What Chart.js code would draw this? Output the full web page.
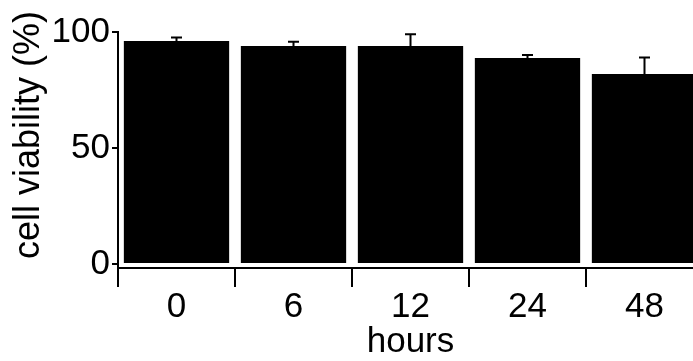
<!DOCTYPE html>
<html>
<head>
<meta charset="utf-8">
<script src="https://cdn.jsdelivr.net/npm/chart.js@4/dist/chart.umd.min.js"></script>
<style>
  html, body { margin: 0; padding: 0; background: #fff; overflow: hidden; width: 693px; height: 361px; }
  #wrap { width: 710px; height: 361px; }
</style>
</head>
<body>
<div id="wrap"><canvas id="c" width="710" height="361"></canvas></div>
<script>
const categories = ['0', '6', '12', '24', '48'];
const viability = [96.1, 94.0, 94.0, 88.8, 81.9];
const errorUp = [1.5, 1.8, 5.0, 1.3, 7.1];
const yTickValues = [0, 50, 100];

const errorBars = {
  id: 'errorBars',
  afterDatasetsDraw(chart) {
    const meta = chart.getDatasetMeta(0);
    const y = chart.scales.y;
    const ctx = chart.ctx;
    ctx.save();
    ctx.strokeStyle = '#000';
    ctx.lineWidth = 2;
    meta.data.forEach((bar, i) => {
      const yv = y.getPixelForValue(viability[i]);
      const yt = y.getPixelForValue(viability[i] + errorUp[i]);
      ctx.beginPath();
      ctx.moveTo(bar.x, yv);
      ctx.lineTo(bar.x, yt);
      ctx.moveTo(bar.x - 5.5, yt);
      ctx.lineTo(bar.x + 5.5, yt);
      ctx.stroke();
    });
    ctx.restore();
  }
};

new Chart(document.getElementById('c'), {
  type: 'bar',
  data: {
    labels: categories,
    datasets: [{
      data: viability,
      backgroundColor: '#000',
      borderWidth: 0,
      barPercentage: 0.9,
      categoryPercentage: 1.0
    }]
  },
  options: {
    responsive: false,
    devicePixelRatio: 1,
    animation: false,
    events: [],
    layout: { padding: { top: 32, right: 7, left: 0, bottom: 0 } },
    plugins: { legend: { display: false }, tooltip: { enabled: false } },
    scales: {
      x: {
        type: 'category',
        offset: true,
        grid: { display: true, offset: true, drawOnChartArea: false, drawTicks: true, tickLength: 19, lineWidth: 2, color: '#000' },
        border: { display: true, color: '#000', width: 2 },
        ticks: { color: '#000', font: { family: 'Liberation Sans, Arial, sans-serif', size: 35 }, padding: -1, maxRotation: 0 },
        title: { display: true, text: 'hours', color: '#000', font: { family: 'Liberation Sans, Arial, sans-serif', size: 35, lineHeight: 1.0 }, padding: { top: 0, bottom: 1 } },
        afterFit(scale) { scale.height = 93; }
      },
      y: {
        min: -1.7,
        max: 100,
        afterBuildTicks(scale) { scale.ticks = yTickValues.map(v => ({ value: v })); },
        grid: { display: true, drawOnChartArea: false, drawTicks: true, tickLength: 6, lineWidth: 2, color: '#000' },
        border: { display: true, color: '#000', width: 2 },
        ticks: { color: '#000', font: { family: 'Liberation Sans, Arial, sans-serif', size: 35 }, padding: 2 },
        title: { display: true, text: '   cell viability (%)', color: '#000', font: { family: 'Liberation Sans, Arial, sans-serif', size: 36, lineHeight: 1.2 }, padding: { top: 7, bottom: 0 } },
        afterFit(scale) { scale.width = 118; }
      }
    }
  },
  plugins: [errorBars]
});
</script>
</body>
</html>
